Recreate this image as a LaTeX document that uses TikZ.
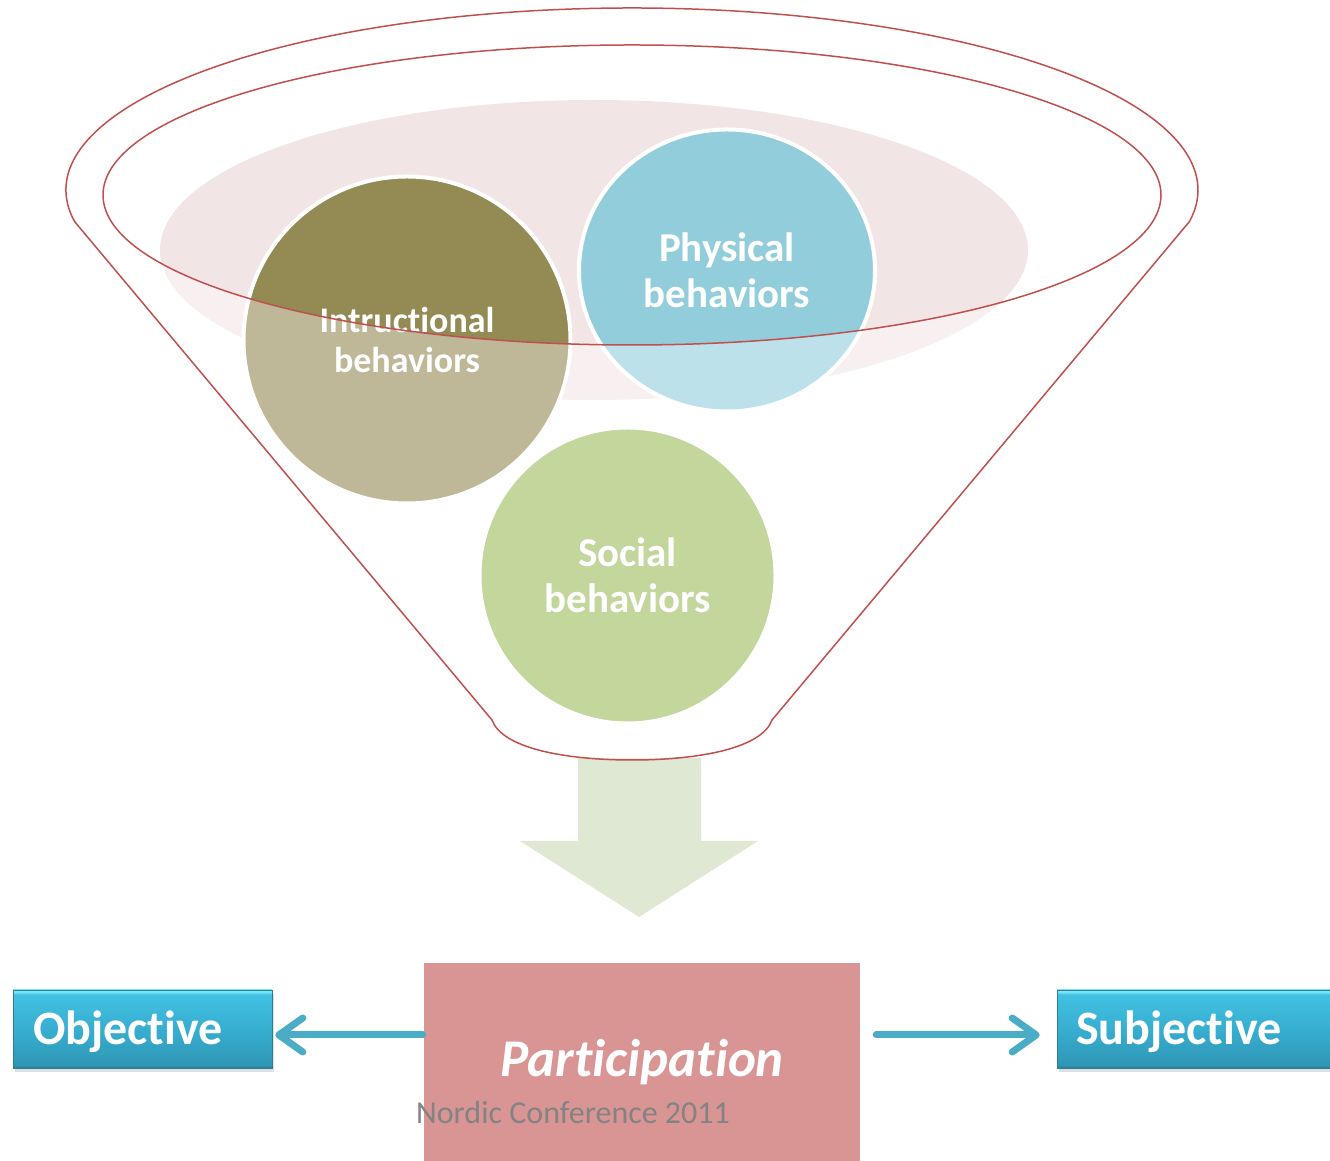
\documentclass[tikz,border=0pt]{standalone}
\usepackage{fontspec}
\setmainfont{Carlito}[Ligatures=NoCommon]
\usetikzlibrary{arrows.meta,shadows,shapes.geometric}

\definecolor{blush}{HTML}{F2E5E6}
\definecolor{olivec}{HTML}{948A54}
\definecolor{skyc}{HTML}{92CDDC}
\definecolor{leafc}{HTML}{9BBB59}
\definecolor{rimc}{HTML}{C0504D}
\definecolor{flowc}{HTML}{DEE8D2}
\definecolor{linkc}{HTML}{4BACC6}
\definecolor{rosec}{HTML}{D99594}
\definecolor{notec}{HTML}{838383}
\definecolor{tagedge}{HTML}{2A7E97}
\definecolor{taglow}{HTML}{2F97B5}
\definecolor{tagmid}{HTML}{37AED0}
\definecolor{taghigh}{HTML}{41C1E2}
\definecolor{tagtop}{HTML}{7BE7F9}
\pgfdeclareverticalshading{tagshade}{100bp}{color(0bp)=(tagedge); color(25bp)=(tagedge); color(27bp)=(taglow); color(50bp)=(tagmid); color(72bp)=(taghigh); color(74bp)=(tagtop); color(75bp)=(tagtop); color(100bp)=(tagtop)}

\begin{document}
\begin{tikzpicture}[x=1pt,y=1pt]
\tikzstyle{every node}=[inner sep=0pt, text=white, font=\bfseries, align=center]
\tikzstyle{ball}=[draw=white, line width=4pt]
\tikzstyle{tag}=[shading=tagshade, draw=tagedge, line width=.6pt, minimum height=78pt, align=left,
  text height=35pt, text depth=3pt,
  font=\bfseries\fontsize{48}{52}\selectfont, drop shadow={shadow xshift=2pt, shadow yshift=-4pt, opacity=.25}]
\tikzstyle{link}=[draw=linkc, line width=7pt, line cap=round, -{Straight Barb[length=24pt,width=34pt,round]}]
\useasboundingbox (0,0) rectangle (1330,1161);
% pink disc behind the balls
\fill[blush] (594,911) ellipse [x radius=434, y radius=150];
\node (c1) [circle, ball, fill=olivec, minimum size=327pt, font=\bfseries\fontsize{36}{40}\selectfont] at (407,821) {Intructional\\behaviors};
\node (c2) [ellipse, ball, fill=skyc, minimum width=296pt, minimum height=282pt, font=\bfseries\fontsize{41}{46}\selectfont] at (727,890.5) {Physical\\behaviors};
\node (c3) [circle, ball, fill=leafc, minimum size=296pt, font=\bfseries\fontsize{41}{46}\selectfont] at (627.5,585.5) {Social\\behaviors};
% arrow out of the funnel
\fill[flowc] (578,403) -- (701,403) -- (701,320) -- (758,320) -- (639,244) -- (520,320) -- (578,320) -- cycle;
% funnel
\path[draw=rimc, line width=1.5pt, fill=white, fill opacity=.4, even odd rule]
  (74.6,939.4) arc [start angle=190, end angle=-10, x radius=566, y radius=182]
  -- (772,441) .. controls (762,413) and (700,401) .. (632,401)
  .. controls (564,401) and (502,413) .. (492,441) -- cycle
  (632,966) ellipse [x radius=529, y radius=150];
% result boxes
\node (part) [fill=rosec, minimum width=436pt, minimum height=198pt, font=\bfseries\itshape\fontsize{53}{57}\selectfont] at (642,99) {Participation};
\node (note) [anchor=base west, text=notec, font=\fontsize{32}{35}\selectfont] at (416,37) {Nordic Conference 2011};
\node (b1) [tag, minimum width=259pt, text width=219pt] at (142.5,132) {Objective};
\node (b2) [tag, minimum width=273pt, text width=235pt] at (1193.5,132) {Subjective};
\coordinate (a1) at ([yshift=-6pt]b1.east);
\coordinate (a2) at ([yshift=-6pt]b2.west);
\draw[link] ([xshift=-1pt]a1 -| part.west) -- ([xshift=3pt]a1);
\draw[link] ([xshift=16pt]a2 -| part.east) -- ([xshift=-17pt]a2);
\end{tikzpicture}
\end{document}
